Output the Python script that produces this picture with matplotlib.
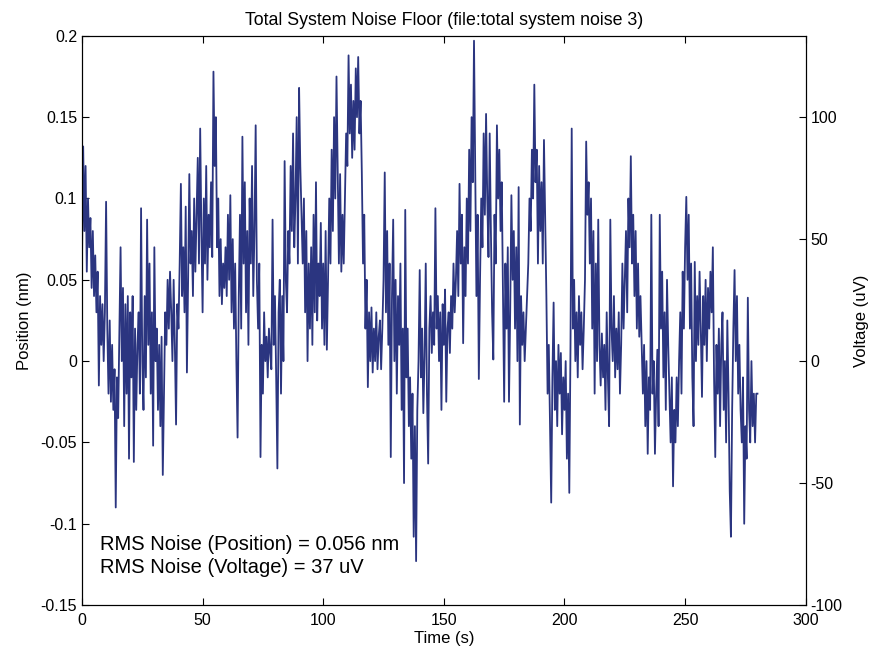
import numpy as np
import matplotlib
matplotlib.use("Agg")
import matplotlib.pyplot as plt
from matplotlib.ticker import FuncFormatter

plt.rcParams['font.family'] = ['Liberation Sans', 'DejaVu Sans']
plt.rcParams['axes.unicode_minus'] = False

# position, in thousandths of a nm, one value every 0.5 s
pos_mnm = [
    60, 132, 80, 120, 55, 100, 70, 88, 45, 80, 40, 65, 30, 55, -15, 40, 10, 35, 0, 30,
    98, 20, -20, 25, -25, 10, -30, -5, -90, -10, -35, 20, 70, 0, 45, -40, 35, -20, 40, -60,
    30, -10, 40, -62, 20, -30, 10, 30, -20, 94, 0, -30, 40, -10, 87, 10, 60, -20, 30, -52,
    70, 0, 20, -30, 10, -40, 15, -70, -20, 30, 10, 50, 20, 55, 30, 0, 50, 10, -39, 35,
    20, 60, 109, 40, 70, 30, 95, -7, 50, 115, 60, 80, 40, 100, 55, 90, 125, 60, 143, 80,
    30, 100, 60, 120, 50, 90, 70, 110, 64, 178, 120, 150, 70, 100, 40, 75, 35, 60, 45, 70,
    40, 90, 50, 102, 30, 75, 20, 60, 0, -47, 40, 90, 20, 138, 60, 110, 30, 80, 10, 100,
    60, 120, 40, 80, 145, 50, 20, 60, -59, 10, -20, 30, 0, 15, -10, 20, 5, -5, 87, 10,
    40, -10, -66, 30, 50, -20, 40, 0, 123, 50, 30, 80, 60, 120, 80, 140, 70, 100, 150, 60,
    168, 120, 90, 60, 100, 30, 80, 0, 60, 20, 70, 10, 90, 30, 110, 25, 60, 40, 85, 20,
    60, 10, 80, 7, 50, 100, 60, 130, 80, 150, 100, 175, 120, 60, 115, 55, 90, 60, 100, 140,
    120, 188, 140, 170, 125, 160, 130, 180, 150, 187, 140, 160, 116, 60, 90, 20, 50, -16, 30, 0,
    33, -7, 20, 0, 30, -5, 15, 25, -5, 20, 50, 116, 30, 80, 10, 60, -59, 40, 87, 0,
    50, -20, 40, 10, 60, -30, 20, -75, 93, -10, 20, -40, -10, -60, -20, -108, -40, -123, -30, 0,
    56, -10, 20, -32, 3, 60, -20, -63, 20, 40, 5, 30, 10, 94, 20, 40, 0, 30, -30, 35,
    10, 44, -25, 20, 30, 5, 40, 20, 60, 30, 50, 80, 40, 109, 60, 90, 11, 70, 40, 100,
    60, 130, 80, 150, 110, 197, 120, 40, 90, -11, 50, 100, 70, 140, 90, 152, 100, 64, 140, 80,
    30, 1, 90, 60, 145, 100, 130, 80, 110, 40, -25, 60, 20, 70, -25, 30, 102, 50, 80, 20,
    70, 0, 107, -39, 40, 10, 30, 0, 20, 40, 60, 100, 80, 130, 100, 170, 110, 130, 60, 120,
    80, 110, 60, 136, 90, 40, -20, 10, -40, -87, -10, 36, -30, 0, -40, 10, -20, 5, -45, -10,
    -30, 0, -60, -20, -81, 10, 143, 20, 50, 0, 30, -10, 40, 10, 30, -5, 20, 50, 135, 90,
    110, 60, 100, 20, 80, -20, 60, 0, 87, 10, -15, 17, -10, 10, -30, 30, -10, -40, 87, 20,
    0, 40, -10, 20, -5, 30, -20, 10, 60, 20, 50, 80, 30, 100, 70, 126, 60, 90, 40, 80,
    20, 60, 15, 40, 10, -20, 10, -40, 0, -57, -10, -30, 90, -20, 0, -57, -20, 7, -40, 90,
    20, 55, -10, 30, -30, 50, 10, -20, -50, -10, -77, -30, -50, -10, -40, 0, 30, -20, 55, 20,
    70, 101, 50, 90, 20, 60, -10, -40, 61, 0, 40, 10, 55, 20, -22, 40, 10, 50, 0, 45,
    20, 55, 30, 70, -10, -59, 10, -20, 20, -40, 10, 30, -30, 0, -50, 25, -20, -80, -108, -30,
    20, 56, 0, 40, -20, 10, -30, -50, -10, -100, -40, -60, 39, -30, -50, 0, -40, -20, -50, -20,
    -20,
]
dt = 0.5
rms_pos_text = "RMS Noise (Position) = 0.056 nm"
rms_volt_text = "RMS Noise (Voltage) = 37 uV"
nm_per_uV = 0.0015

pos = np.array(pos_mnm) / 1000.0
t = np.arange(len(pos)) * dt

fig = plt.figure(figsize=(8.72, 6.52), dpi=100)
ax = fig.add_axes([0.094, 0.072, 0.830, 0.873])
ax.plot(t, pos, color='#2b3580', lw=1.3)

ax.set_xlim(0, 300)
ax.set_ylim(-0.15, 0.2)
ax.set_xticks(np.arange(0, 301, 50))
ax.set_yticks(np.arange(-0.15, 0.201, 0.05))
ax.yaxis.set_major_formatter(FuncFormatter(lambda v, p: '%g' % round(v, 3)))
ax.tick_params(direction='in', top=True, right=True, labelsize=11.5, length=5)
ax.tick_params(axis='x', pad=6)
ax.set_xlabel('Time (s)', fontsize=12, labelpad=2)
ax.set_ylabel('Position (nm)', fontsize=12, labelpad=6)
ax.set_title('Total System Noise Floor (file:total system noise 3)', fontsize=12.8, pad=8)

ax2 = ax.twinx()
ax2.set_ylim(-0.15 / nm_per_uV, 0.2 / nm_per_uV)
ax2.set_yticks(np.arange(-100, 101, 50))
ax2.tick_params(direction='in', labelsize=11.5, length=5)
ax2.set_ylabel('Voltage (uV)', fontsize=12, labelpad=8)

ax.text(0.025, 0.05, rms_pos_text + '\n' + rms_volt_text, transform=ax.transAxes,
        fontsize=14.5, va='bottom', ha='left', linespacing=1.25)

fig.savefig('out.png', dpi=100)
